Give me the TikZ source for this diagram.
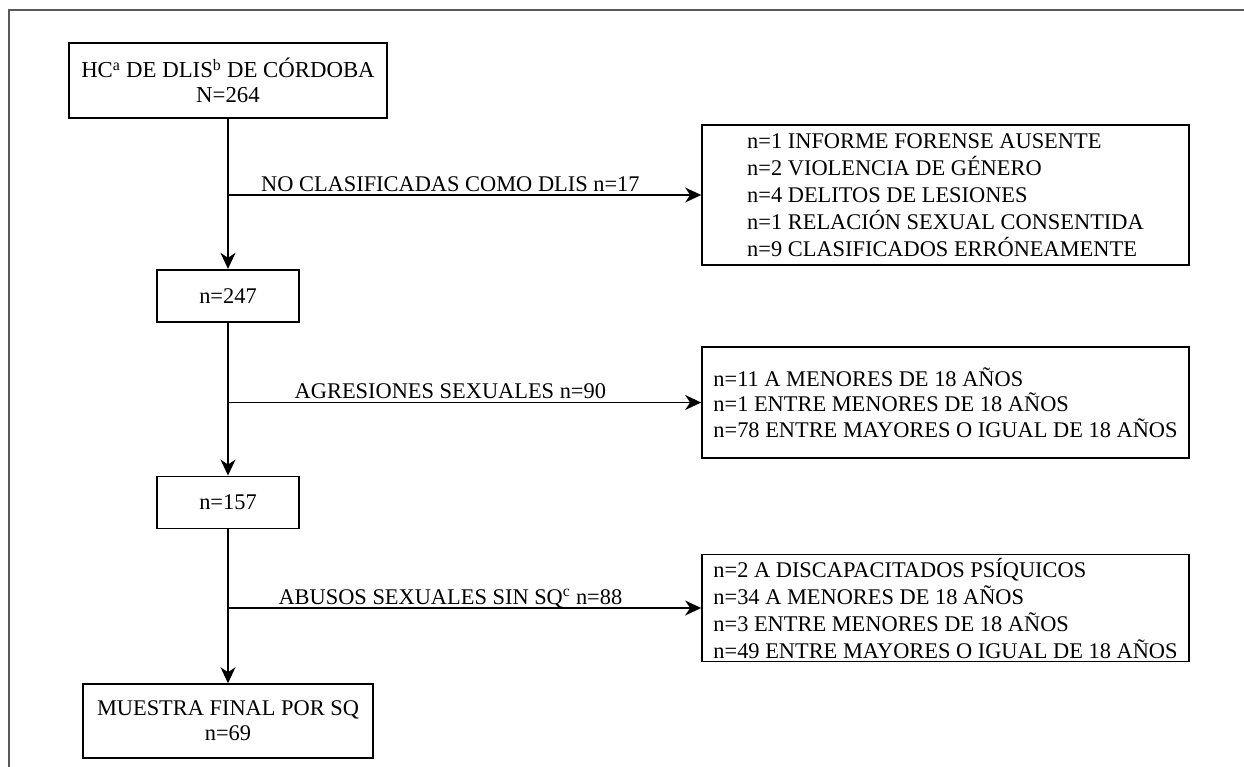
\documentclass[tikz,border=0pt]{standalone}
\usepackage{fontspec}
\setmainfont{Liberation Serif}
\usetikzlibrary{arrows.meta,positioning}

\begin{document}
\begin{tikzpicture}
  [
    x=1pt,
    y=-1pt,
    ->,
    >={Stealth[length=16pt,width=15pt,inset=5pt]},
    line width=1.7pt,
    main node/.style={draw, fill=white, align=center, inner sep=4pt, font=\fontsize{22.4}{25}\selectfont},
    side node/.style={draw, fill=white, align=left, minimum width=487pt, font=\fontsize{22.4}{27}\selectfont},
    edge label/.style={above=2pt, inner sep=1pt, text depth=0pt, font=\fontsize{22.4}{25}\selectfont},
    frame/.style={-, draw=black!65, line width=1.2pt},
  ]
  \useasboundingbox (0,0) rectangle (1244,767);
  \draw [frame] (9,767) -- (9,10) -- (1244,10);

  % main column
  \node [main node, minimum width=318pt, minimum height=75pt, font=\fontsize{22.8}{25}\selectfont] (hc) at (228,80.5) {HC\textsuperscript{a} DE DLIS\textsuperscript{b} DE CÓRDOBA\\N=264};
  \node [main node, minimum width=142pt, minimum height=52pt, below=150pt of hc] (n247) {n=247};
  \node [main node, minimum width=142pt, minimum height=52pt, below=153pt of n247] (n157) {n=157};
  \node [main node, minimum width=290pt, minimum height=74pt, below=154pt of n157] (final) {MUESTRA FINAL POR SQ\\n=69};

  % excluded records
  \node [side node, minimum height=140pt] (excl1) at (945.5,195) {n=1 INFORME FORENSE AUSENTE\\n=2 VIOLENCIA DE GÉNERO\\n=4 DELITOS DE LESIONES\\n=1 RELACIÓN SEXUAL CONSENTIDA\\n=9 CLASIFICADOS ERRÓNEAMENTE};
  \node [side node, minimum height=111pt, font=\fontsize{22.4}{25.5}\selectfont] (excl2) at (945.5,402.5) {n=11 A MENORES DE 18 AÑOS\\n=1 ENTRE MENORES DE 18 AÑOS\\n=78 ENTRE MAYORES O IGUAL DE 18 AÑOS};
  \node [side node, minimum height=106pt] (excl3) at (945.5,608) {n=2 A DISCAPACITADOS PSÍQUICOS\\n=34 A MENORES DE 18 AÑOS\\n=3 ENTRE MENORES DE 18 AÑOS\\n=49 ENTRE MAYORES O IGUAL DE 18 AÑOS};

  \draw (hc) -- (n247);
  \draw (n247) -- (n157);
  \draw (n157) -- (final);

  \draw (hc |- excl1.west) -- node [edge label, pos=0.47] {NO CLASIFICADAS COMO DLIS n=17} (excl1.west);
  \draw (hc |- excl2.west) -- node [edge label, pos=0.47] {AGRESIONES SEXUALES n=90} (excl2.west);
  \draw (hc |- excl3.west) -- node [edge label, pos=0.47] {ABUSOS SEXUALES SIN SQ\textsuperscript{c} n=88} (excl3.west);
\end{tikzpicture}
\end{document}
